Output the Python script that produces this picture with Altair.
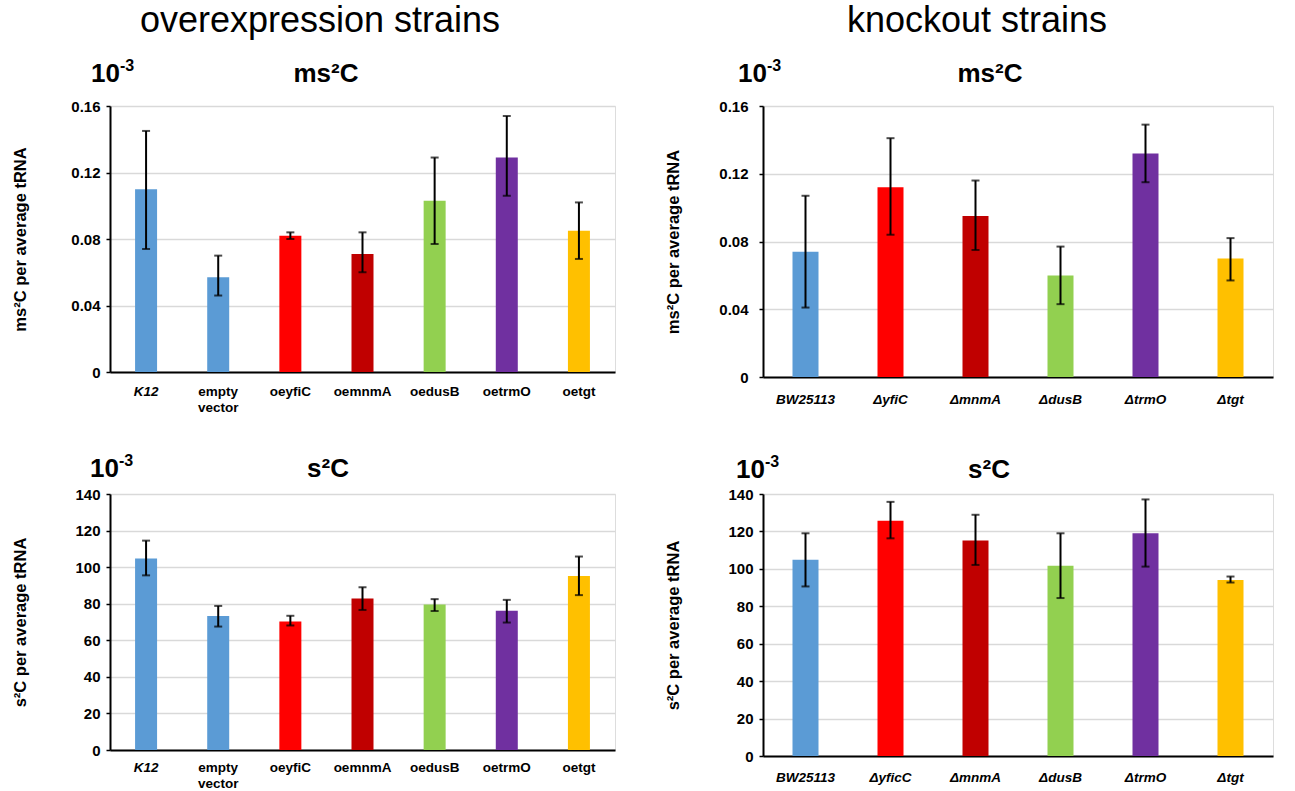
import altair as alt
import pandas as pd

# ---------------- data ----------------
oe_strains = ["K12", "empty vector", "oeyfiC", "oemnmA", "oedusB", "oetrmO", "oetgt"]
oe_colors = ["#5B9BD5", "#5B9BD5", "#FF0000", "#C00000", "#92D050", "#7030A0", "#FFC000"]

oe_ms2c = [0.110, 0.057, 0.082, 0.071, 0.103, 0.129, 0.085]
oe_ms2c_lo = [0.074, 0.046, 0.080, 0.060, 0.077, 0.106, 0.068]
oe_ms2c_hi = [0.145, 0.070, 0.084, 0.084, 0.129, 0.154, 0.102]

oe_s2c = [104.7, 73.3, 70.3, 82.9, 79.6, 76.2, 95.1]
oe_s2c_lo = [95.5, 67.5, 68.1, 76.6, 76.0, 69.7, 84.7]
oe_s2c_hi = [114.5, 78.8, 73.4, 89.0, 82.5, 82.1, 105.8]

ko_strains_ms2c = ["BW25113", "ΔyfiC", "ΔmnmA", "ΔdusB", "ΔtrmO", "Δtgt"]
ko_strains_s2c = ["BW25113", "ΔyficC", "ΔmnmA", "ΔdusB", "ΔtrmO", "Δtgt"]
ko_colors = ["#5B9BD5", "#FF0000", "#C00000", "#92D050", "#7030A0", "#FFC000"]

ko_ms2c = [0.074, 0.112, 0.095, 0.060, 0.132, 0.070]
ko_ms2c_lo = [0.041, 0.084, 0.075, 0.043, 0.115, 0.057]
ko_ms2c_hi = [0.107, 0.141, 0.116, 0.077, 0.149, 0.082]

ko_s2c = [104.8, 125.7, 115.2, 101.6, 119.0, 94.1]
ko_s2c_lo = [90.6, 116.3, 102.1, 84.4, 101.2, 92.7]
ko_s2c_hi = [119.0, 135.8, 128.9, 119.0, 137.1, 95.9]

ms2c_ticks = [0, 0.04, 0.08, 0.12, 0.16]
s2c_ticks = [0, 20, 40, 60, 80, 100, 120, 140]

FONT = "Liberation Sans"


def text_layer(txt, x, y, size, align="left", weight="bold"):
    return alt.Chart(pd.DataFrame({"t": [txt]})).mark_text(
        font=FONT, fontSize=size, fontWeight=weight, align=align,
        baseline="alphabetic", color="black"
    ).encode(text="t:N", x=alt.value(x), y=alt.value(y))


def panel(cats, colors, vals, lo, hi, w, h, ymax, ticks, label_expr, ytitle,
          ptitle, barsize, italic, xpad, ypad, ten_x, ten_y, title_x, big=None):
    df = pd.DataFrame({"cat": cats, "val": vals, "lo": lo, "hi": hi, "color": colors})
    if italic == "all":
        fstyle = "italic"
    else:
        fstyle = {"condition": {"test": f"datum.value == '{italic}'", "value": "italic"},
                  "value": "normal"}
    xaxis = alt.Axis(
        title=None, labelAngle=0, ticks=False, tickSize=0, labelPadding=xpad,
        labelFont=FONT, labelFontSize=13.5, labelFontWeight="bold", labelColor="black",
        labelFontStyle=fstyle, labelLineHeight=16,
        labelExpr="datum.value == 'empty vector' ? ['empty', 'vector'] : datum.value",
        domainColor="black", domainWidth=2, grid=False,
    )
    yaxis = alt.Axis(
        title=ytitle, values=ticks, tickCount=len(ticks), labelExpr=label_expr,
        labelOverlap=False,
        labelFont=FONT, labelFontSize=15, labelFontWeight="bold", labelColor="black",
        labelPadding=ypad, tickSize=4, tickColor="black", tickWidth=1.5,
        domainColor="black", domainWidth=2,
        gridColor="#d9d9d9", gridWidth=1.5,
        titleFont=FONT, titleFontSize=16.5, titleFontWeight="bold", titleColor="black",
        titleX=-90, titleY=h / 2, titleAngle=270, titleAlign="center", titleBaseline="middle",
    )
    x = alt.X("cat:N", sort=cats, scale=alt.Scale(paddingInner=0, paddingOuter=0), axis=xaxis)
    xs = alt.X("cat:N", sort=cats)
    bars = alt.Chart(df).mark_bar(size=barsize).encode(
        x=x,
        y=alt.Y("val:Q", scale=alt.Scale(domain=[0, ymax], nice=False), axis=yaxis),
        color=alt.Color("color:N", scale=None),
    )
    rules = alt.Chart(df).mark_rule(color="black", strokeWidth=2).encode(
        x=xs, y="lo:Q", y2="hi:Q")
    cap_lo = alt.Chart(df).mark_tick(color="black", size=8, thickness=2).encode(x=xs, y="lo:Q")
    cap_hi = alt.Chart(df).mark_tick(color="black", size=8, thickness=2).encode(x=xs, y="hi:Q")
    layers = [bars, rules, cap_lo, cap_hi,
              text_layer("10", ten_x, ten_y, 26),
              text_layer("-3", ten_x + 29, ten_y - 11, 16),
              text_layer(ptitle, title_x, ten_y, 26, align="center")]
    if big is not None:
        layers.append(text_layer(big[0], big[1], big[2], 36, align="center", weight="normal"))
    return alt.layer(*layers).properties(width=w, height=h)


ms2c_expr = "datum.value == 0 ? '0' : format(datum.value, '.2f')"
s2c_expr = "format(datum.value, 'd')"

tl = panel(oe_strains, oe_colors, oe_ms2c, oe_ms2c_lo, oe_ms2c_hi, 505, 266, 0.16,
           ms2c_ticks, ms2c_expr, "ms²C per average tRNA", "ms²C", 22, "K12", 12, 6,
           -19, -24, 216, big=("overexpression strains", 210, -74))
tr = panel(ko_strains_ms2c, ko_colors, ko_ms2c, ko_ms2c_lo, ko_ms2c_hi, 510, 271, 0.16,
           ms2c_ticks, ms2c_expr, "ms²C per average tRNA", "ms²C", 26, "all", 15, 11,
           -25, -24, 227, big=("knockout strains", 214, -74))
bl = panel(oe_strains, oe_colors, oe_s2c, oe_s2c_lo, oe_s2c_hi, 505, 256, 140,
           s2c_ticks, s2c_expr, "s²C per average tRNA", "s²C", 22, "K12", 10, 6,
           -20, -17, 218)
br = panel(ko_strains_s2c, ko_colors, ko_s2c, ko_s2c_lo, ko_s2c_hi, 510, 262, 140,
           s2c_ticks, s2c_expr, "s²C per average tRNA", "s²C", 26, "all", 14, 6,
           -27, -16, 226)

chart = alt.concat(
    tl, tr, bl, br, columns=2, spacing={"row": 117, "column": 148}, bounds="flush"
).properties(
    padding={"left": 11, "top": 2, "right": 5, "bottom": 2}
).configure_view(stroke=None).configure(background="white")

chart.save("out.html", embed_options={"renderer": "svg", "actions": False})
